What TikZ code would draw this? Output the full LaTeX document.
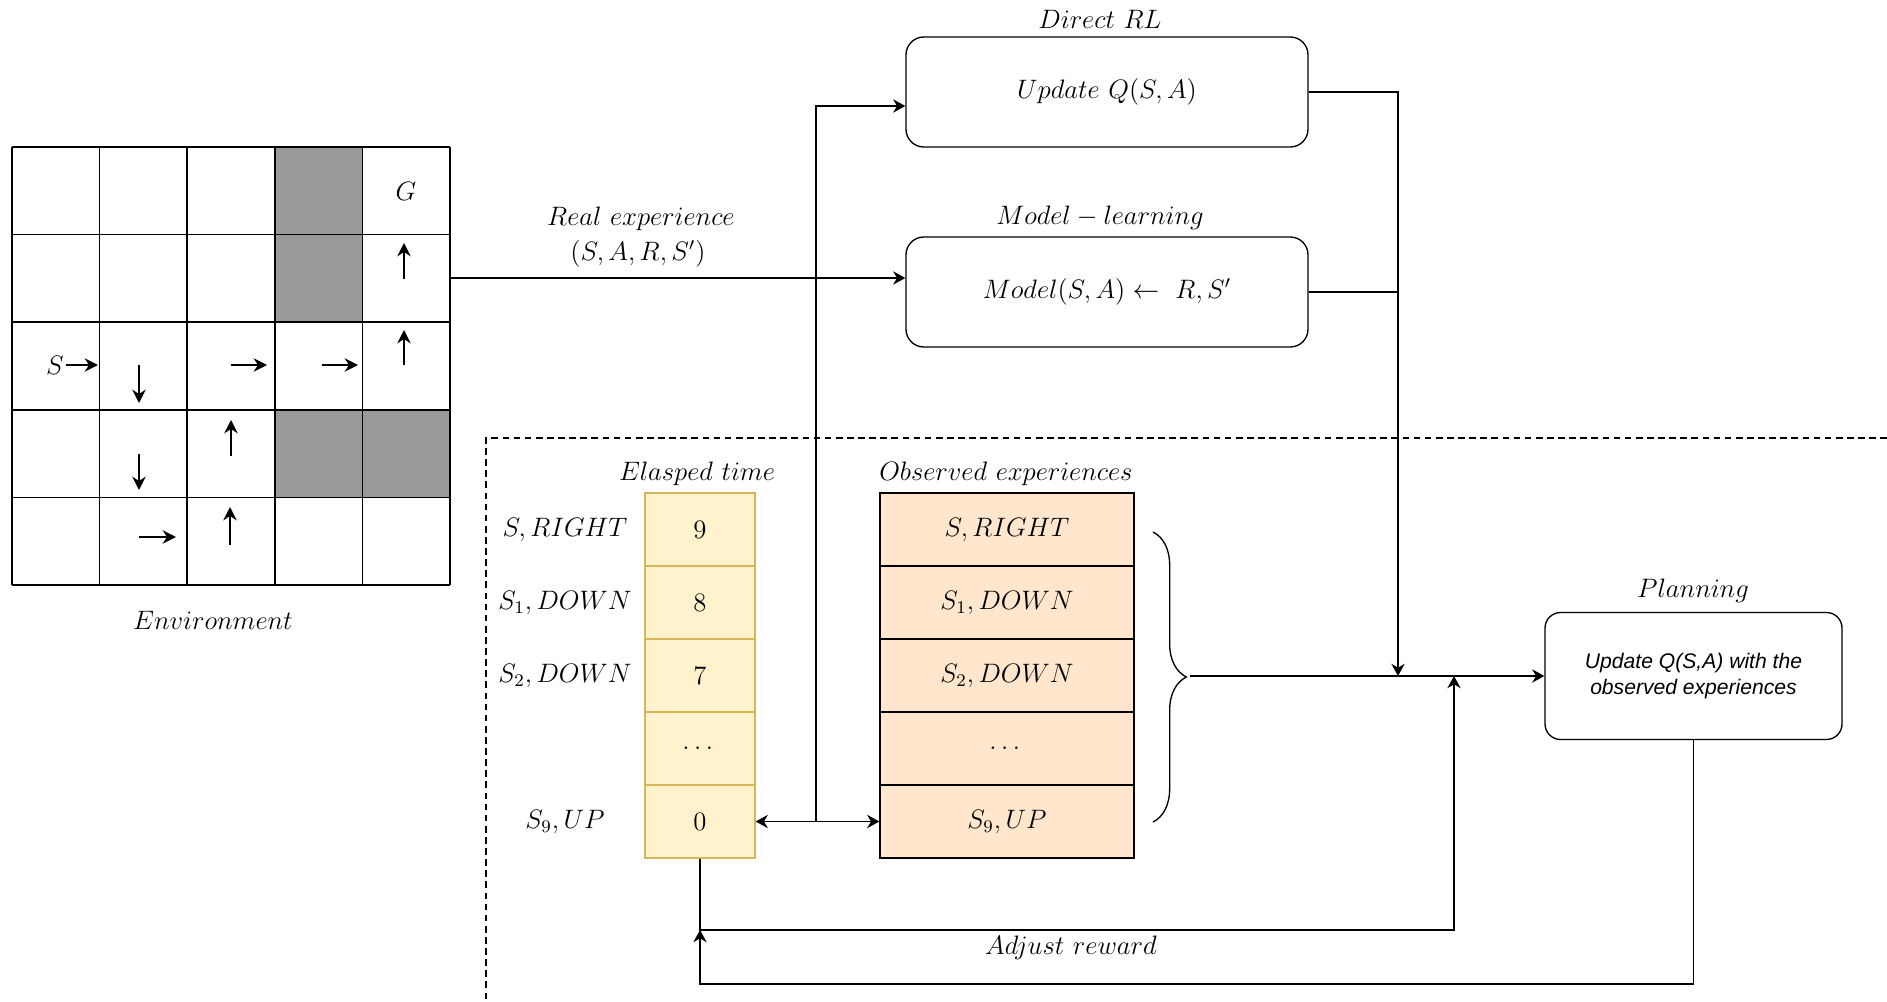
\documentclass[tikz,border=0pt]{standalone}
\usepackage{amsmath}
\usepackage{fontspec}
\newfontfamily\planfont{Liberation Sans}
\usetikzlibrary{arrows.meta, calc, decorations.pathreplacing}

\definecolor{wallgray}{HTML}{999999}
\definecolor{timefill}{HTML}{FFF2CC}
\definecolor{timeline}{HTML}{D6B656}
\definecolor{expfill}{HTML}{FFE6CC}
\newcommand{\px}{0.45pt}

\tikzset{
  flow/.style={line width=0.6pt, -{Stealth[length=5.5pt, width=6pt]}},
  both/.style={line width=0.6pt, {Stealth[length=5.5pt, width=6pt]}-{Stealth[length=5.5pt, width=6pt]}},
  plain/.style={line width=0.6pt},
  move/.style={line width=0.8pt, -{Stealth[length=6pt, width=6pt]}},
  stepbox/.style={draw, rounded corners=8pt, line width=0.6pt,
    minimum width=402*\px, minimum height=110*\px},
  timecell/.style={draw=timeline, fill=timefill, line width=0.6pt,
    minimum width=110*\px, minimum height=73*\px},
  expcell/.style={draw, fill=expfill, line width=0.6pt,
    minimum width=254*\px, minimum height=73*\px},
}

\begin{document}
\begin{tikzpicture}[x=\px, y=-\px, font=\fontsize{12}{14.4}\selectfont]
\useasboundingbox (0,0) rectangle (1887,1002);

% grid world
\foreach \c/\r in {3/0, 3/1, 3/3, 4/3}
  \fill[wallgray] (12+\c*87.6, 147+\r*87.6) rectangle ++(87.6, 87.6);
\foreach \i in {0,...,5} {
  \draw[line width=0.8pt] (12+\i*87.6, 147) -- (12+\i*87.6, 585);
  \draw[line width=0.8pt] (12, 147+\i*87.6) -- (450, 147+\i*87.6);
}
\node[inner sep=1pt] (start) at (55,365) {$S$};
\node (goal) at (406,191) {$G$};
\draw[move] (start.east) -- (98,365);
\foreach \xa/\ya/\xb/\yb in {139/365/139/403, 231/365/267/365, 322/365/358/365,
    404/365/404/330, 404/279/404/243, 139/454/139/490, 231/456/231/420,
    139/537/176/537, 230/545/230/507}
  \draw[move] (\xa,\ya) -- (\xb,\yb);
\node (envlabel) at (213,620) {$Environment$};

% direct RL and model learning
\node (directlbl) at (1100,19) {$Direct\ RL$};
\node[stepbox] (directrl) at (1107,92) {$Update\ Q(S,A)$};
\node (modellbl) at (1100,218) {$Model-learning$};
\node[stepbox] (modelbox) at (1107,292) {$Model(S,A)\leftarrow\ R,S'$};

\coordinate (envout) at (450,278);
\draw[flow] (envout) -- (envout -| modelbox.west);
\node (reallbl) at (641,219) {$Real\ experience$};
\node (realtuple) at (638,254) {$(S,A,R,S')$};

% planning region
\coordinate (dashc) at (486,438);
\draw[line width=0.6pt, dash pattern=on 3pt off 2pt] (1887,438) -- (dashc) -- (486,1002);

\node (etlbl) at (697,474) {$Elasped\ time$};
\node (oblbl) at (1006,474) {$Observed\ experiences$};
\foreach \tval/\obs [count=\k] in {9/{S,RIGHT}, 8/{S_1,DOWN}, 7/{S_2,DOWN},
    \dots/\dots, 0/{S_9,UP}} {
  \node[timecell] (et\k) at (700, 456.5+\k*73) {$\tval$};
  \node[expcell] (ob\k) at (1007, 456.5+\k*73) {$\obs$};
}
\node (rl1) at (565,529.5) {$S,RIGHT$};
\node (rl2) at (565,602.5) {$S_1,DOWN$};
\node (rl3) at (565,675.5) {$S_2,DOWN$};
\node (rl5) at (565,821.5) {$S_9,UP$};

\coordinate (jn) at (816,821.5);
\draw[both] (et5.east) -- (ob5.west);
\draw[flow] (jn) |- ([yshift=-6.3pt]directrl.west);

\draw[decorate, decoration={brace, amplitude=15pt}, line width=0.6pt]
  (1153,532) -- (1153,822);
\coordinate (bracetip) at (1190,676);

\node (planlbl) at (1693,591) {$Planning$};
\node[draw, rounded corners=7pt, line width=0.6pt, minimum width=297*\px,
  minimum height=127*\px, align=center,
  font=\fontsize{9.5}{11.3}\selectfont\planfont\itshape] (planbox) at (1693.5,676)
  {Update Q(S,A) with the\\observed experiences};

\draw[flow] (bracetip) -- (planbox.west);
\coordinate (merge) at (1398,676);
\draw[flow] (directrl.east) -| (merge);
\draw[plain] (modelbox.east) -- (modelbox.east -| merge);

% reward adjustment loop
\coordinate (adjin) at (1454,676);
\coordinate (adjlow) at (1454,930);
\draw[flow] (et5.south) |- (adjlow) -- (adjin);
\coordinate (retlow) at (700,984);
\coordinate (retin) at (700,930);
\draw[flow] (planbox.south) |- (retlow) -- (retin);
\node (adjlbl) at (1071,948) {$Adjust\ reward$};
\end{tikzpicture}
\end{document}
